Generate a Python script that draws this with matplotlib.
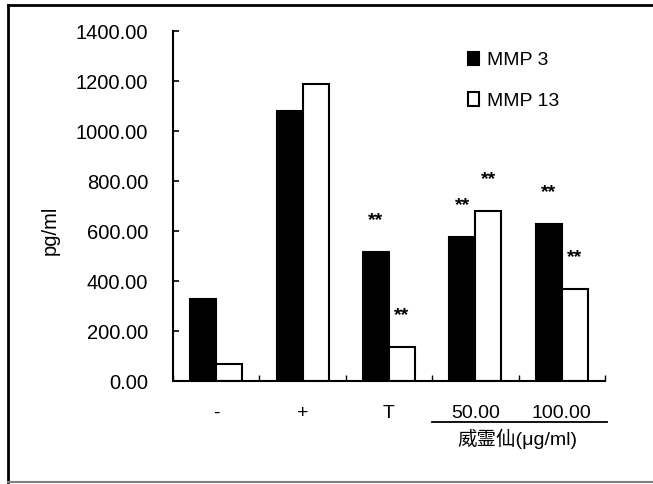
import matplotlib
matplotlib.use('Agg')
import matplotlib.pyplot as plt
import matplotlib.transforms as mtransforms
from matplotlib.lines import Line2D
import numpy as np

plt.rcParams['font.family'] = ['Liberation Sans', 'Noto Sans CJK SC']

groups = ['-', '+', 'T', '50.00', '100.00']
mmp3 = [330, 1080, 515, 575, 630]
mmp13 = [70, 1190, 135, 680, 370]
# significance marks: (group index, series 0=MMP3 / 1=MMP13)
stars = [(2, 0), (2, 1), (3, 0), (3, 1), (4, 0), (4, 1)]
yticks = [0, 200, 400, 600, 800, 1000, 1200, 1400]

fig = plt.figure(figsize=(6.53, 4.84), dpi=100)
ax = fig.add_axes([0.265, 0.2128, 0.6615, 0.723])

x = np.arange(len(groups))
w = 0.3
ax.bar(x - w/2, mmp3, w, color='black', edgecolor='black', linewidth=1.5, label='MMP 3')
ax.bar(x + w/2, mmp13, w, color='white', edgecolor='black', linewidth=1.5, label='MMP 13')

for gi, s in stars:
    val = mmp3[gi] if s == 0 else mmp13[gi]
    xs = x[gi] - w/2 if s == 0 else x[gi] + w/2
    ax.text(xs, val + 125, '**', ha='center', va='center', fontsize=14, fontweight='bold')

ax.set_xlim(-0.5, len(groups) - 0.5)
ax.set_ylim(0, 1400)
ax.set_yticks(yticks)
ax.set_yticklabels(['%.2f' % v for v in yticks], fontsize=14.5)
ax.tick_params(axis='y', direction='in', length=4, width=1.2, pad=18)
ax.set_xticks(x)
ax.set_xticklabels(groups, fontsize=14)
ax.tick_params(axis='x', length=0, pad=17)
ax.set_xticks(np.arange(len(groups) + 1) - 0.5, minor=True)
ax.tick_params(axis='x', which='minor', direction='in', length=4, width=1)
for side in ['top', 'right']:
    ax.spines[side].set_visible(False)
for side in ['left', 'bottom']:
    ax.spines[side].set_linewidth(1.5)

trans = mtransforms.blended_transform_factory(ax.transData, ax.transAxes)
ax.add_line(Line2D([2.5, 4.52], [-0.117, -0.117], transform=trans, color='black',
                   linewidth=1.3, clip_on=False))
ax.text(3.49, -0.165, '威霊仙(μg/ml)', transform=trans, ha='center', va='center',
        fontsize=14, family=['Liberation Sans', 'Noto Sans CJK SC'])

fig.text(50/653, 1 - 230/484, 'pg/ml', rotation=90, ha='center', va='center', fontsize=14.5)

ax.legend(loc='upper left', bbox_to_anchor=(450/653, 1 - 34/484), bbox_transform=fig.transFigure,
          frameon=False, fontsize=14, handlelength=0.6, handleheight=0.7,
          handletextpad=0.4, labelspacing=1.2)

# outer frame
fig.add_artist(Line2D([8/653, 1], [1 - 5/484, 1 - 5/484], transform=fig.transFigure, color='black', linewidth=2))
fig.add_artist(Line2D([8/653, 8/653], [2/484, 1 - 5/484], transform=fig.transFigure, color='black', linewidth=2))
fig.add_artist(Line2D([8/653, 1], [2/484, 2/484], transform=fig.transFigure, color='gray', linewidth=1.5))

fig.savefig('out.png', dpi=100)
